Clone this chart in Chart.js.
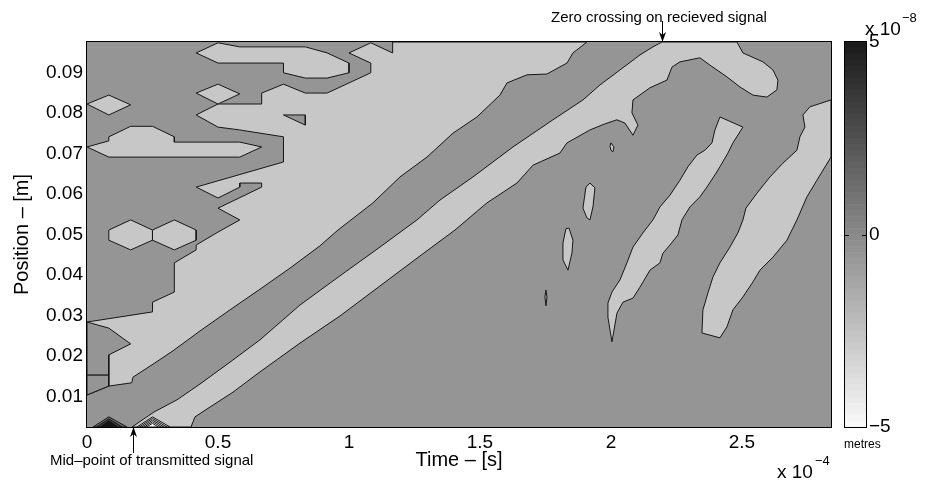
<!DOCTYPE html>
<html>
<head>
<meta charset="utf-8">
<script src="https://cdn.jsdelivr.net/npm/chart.js"></script>
<style>
  body { margin: 0; background: #fff; }
  #wrap { position: relative; width: 930px; height: 484px; font-family: 'Liberation Sans', Arial, sans-serif; color: #000; }
  #plot { position: absolute; left: 0; top: 0; }
  #cbar { position: absolute; left: 835px; top: 0; }
  .lbl { position: absolute; white-space: nowrap; line-height: 1; }
</style>
</head>
<body>
<div id="wrap">
  <canvas id="plot" width="930" height="484"></canvas>
  <canvas id="cbar" width="95" height="484"></canvas>
  <div class="lbl" style="left:551px;top:9px;font-size:15px">Zero crossing on recieved signal</div>
  <div class="lbl" style="left:50px;top:452px;font-size:15px">Mid–point of transmitted signal</div>
  <div class="lbl" style="left:777px;top:462px;font-size:19px">x 10</div>
  <div class="lbl" style="left:815px;top:454px;font-size:13px">−4</div>
  <div class="lbl" style="left:865px;top:19px;font-size:19px">x 10</div>
  <div class="lbl" style="left:902px;top:11px;font-size:13px">−8</div>
  <div class="lbl" style="left:844px;top:438px;font-size:12px">metres</div>
</div>
<script>
// time in units of 1e-4 s, position in metres
const xTicks = [0, 0.5, 1, 1.5, 2, 2.5];
const xTickLabels = ['0', '0.5', '1', '1.5', '2', '2.5'];
const yTicks = [0.01, 0.02, 0.03, 0.04, 0.05, 0.06, 0.07, 0.08, 0.09];
const cbTicks = [-5, 0, 5];

const midPoint = 0.1756;   // transmitted signal mid-point
const zeroCross = 2.1947;  // zero crossing on received signal

// contour regions, [time, position]
const upperBand = [[1.1667,0.0975],[1.9084,0.0975],[1.8550,0.0948],[1.8321,0.0923],[1.7557,0.0896],[1.6794,0.0894],[1.6031,0.0874],[1.5763,0.0844],[1.4885,0.0790],[1.3969,0.0750],[1.2977,0.0691],[1.1947,0.0642],[1.0916,0.0578],[0.9580,0.0511],[0.8893,0.0472],[0.7748,0.0417],[0.6603,0.0365],[0.5458,0.0314],[0.4313,0.0262],[0.3282,0.0213],[0.2519,0.0180],[0.1756,0.0148],[0.1706,0.0134],[0.0833,0.0126],[0,0.0104],[0,0.0284],[0.25,0.0309],[0.25,0.0333],[0.3333,0.0358],[0.3333,0.0430],[0.4167,0.0462],[0.4167,0.0474],[0.5,0.0506],[0.5833,0.0536],[0.5,0.0565],[0.6667,0.0617],[0.6667,0.0627],[0.5833,0.0627],[0.5833,0.0617],[0.5,0.0590],[0.4167,0.0617],[0.75,0.0679],[0.75,0.0741],[0.5833,0.0758],[0.5,0.0765],[0.4167,0.0795],[0.5,0.0822],[0.6667,0.0822],[0.6667,0.0849],[0.75,0.0871],[0.8333,0.0849],[0.9167,0.0849],[1.0833,0.0899],[1.0833,0.0923],[1.0,0.0948],[1.0833,0.0973],[1.1667,0.0948]];
const leftNotch = [[0,0.0284],[0.0833,0.0269],[0.1667,0.0230],[0.0833,0.0203],[0.0833,0.0153],[0,0.0153]];
const leftBox = [[0,0.0153],[0.0833,0.0153],[0.0833,0.0126],[0,0.0104]];
const upperPocket = [[0.75,0.0795],[0.8333,0.0795],[0.8333,0.0770]];
const topBlob = [[0.4167,0.0948],[0.5,0.0973],[0.5833,0.0963],[0.8333,0.0963],[0.9167,0.0948],[1.0,0.0923],[1.0,0.0899],[0.9167,0.0886],[0.8333,0.0886],[0.75,0.0899],[0.75,0.0923],[0.5,0.0923]];
const leftDiamond = [[0,0.0822],[0.0833,0.0844],[0.1667,0.0820],[0.0833,0.0795]];
const midDiamond = [[0.4167,0.0849],[0.5,0.0871],[0.5833,0.0847],[0.5,0.0822]];
const midBlob = [[0,0.0716],[0.0833,0.0731],[0.0833,0.0741],[0.1667,0.0767],[0.25,0.0767],[0.3333,0.0741],[0.3333,0.0728],[0.5833,0.0728],[0.6667,0.0716],[0.5833,0.0691],[0.0833,0.0691]];
const leftHex = [[0.0833,0.0511],[0.1667,0.0536],[0.25,0.0511],[0.25,0.0486],[0.1667,0.0462],[0.0833,0.0486]];
const rightHex = [[0.25,0.0511],[0.3333,0.0536],[0.4167,0.0511],[0.4167,0.0486],[0.3333,0.0462],[0.25,0.0486]];
const lowerBand = [[0.1718,0.0025],[0.2557,0.0062],[0.3435,0.0092],[0.4313,0.0131],[0.5458,0.0185],[0.6603,0.0240],[0.8130,0.0326],[0.9656,0.0398],[1.1183,0.0469],[1.2595,0.0536],[1.3473,0.0585],[1.4733,0.0642],[1.6260,0.0716],[1.7786,0.0783],[1.8931,0.0832],[1.9580,0.0869],[2.0344,0.0906],[2.1107,0.0943],[2.1603,0.0963],[2.1947,0.0975],[2.4809,0.0975],[2.5038,0.0948],[2.5802,0.0926],[2.6183,0.0906],[2.6374,0.0881],[2.6336,0.0857],[2.5954,0.0839],[2.5420,0.0844],[2.4924,0.0864],[2.4427,0.0889],[2.3779,0.0918],[2.3397,0.0936],[2.2634,0.0926],[2.2328,0.0913],[2.2137,0.0881],[2.1489,0.0862],[2.0840,0.0832],[2.0802,0.0800],[2.1031,0.0770],[2.0840,0.0745],[2.0534,0.0775],[2.0229,0.0783],[1.9771,0.0773],[1.9198,0.0758],[1.8321,0.0726],[1.8053,0.0701],[1.7023,0.0671],[1.6412,0.0627],[1.5267,0.0578],[1.4046,0.0511],[1.2710,0.0447],[1.1183,0.0373],[0.9656,0.0299],[0.8130,0.0232],[0.6603,0.0161],[0.5573,0.0111],[0.4809,0.0079],[0.4122,0.0050],[0.3969,0.0025]];
const midStripe = [[2.4160,0.0790],[2.5038,0.0765],[2.4656,0.0726],[2.4466,0.0701],[2.4160,0.0667],[2.3969,0.0647],[2.3664,0.0617],[2.3397,0.0593],[2.3015,0.0568],[2.2710,0.0536],[2.2557,0.0499],[2.2252,0.0474],[2.1985,0.0454],[2.1870,0.0430],[2.1489,0.0412],[2.1107,0.0370],[2.0840,0.0343],[2.0458,0.0333],[2.0229,0.0306],[2.0038,0.0235],[1.9885,0.0296],[1.9885,0.0331],[2.0038,0.0358],[2.0344,0.0388],[2.0611,0.0430],[2.0840,0.0469],[2.1221,0.0504],[2.1603,0.0536],[2.1870,0.0568],[2.2252,0.0597],[2.2634,0.0634],[2.2939,0.0667],[2.3282,0.0696],[2.3588,0.0708],[2.3855,0.0726],[2.3969,0.0758]];
const rightStripe = [[2.84,0.0832],[2.7595,0.0815],[2.7328,0.0795],[2.7405,0.0765],[2.7214,0.0741],[2.7099,0.0708],[2.6565,0.0676],[2.6069,0.0642],[2.5573,0.0602],[2.5153,0.0565],[2.5038,0.0536],[2.4847,0.0504],[2.4542,0.0469],[2.4160,0.0430],[2.3893,0.0395],[2.3702,0.0356],[2.3511,0.0314],[2.3473,0.0257],[2.4160,0.0245],[2.4427,0.0272],[2.4656,0.0314],[2.5038,0.0346],[2.5420,0.0383],[2.5687,0.0412],[2.6183,0.0444],[2.6718,0.0486],[2.7099,0.0536],[2.7481,0.0593],[2.7863,0.0634],[2.84,0.0691]];
const dropIsle = [[2.0,0.0726],[2.0115,0.0716],[2.0076,0.0704],[2.0,0.0708],[1.9962,0.0718]];
const isleA = [[1.9198,0.0627],[1.9389,0.0615],[1.9313,0.0568],[1.9198,0.0536],[1.9084,0.0541],[1.8931,0.0565],[1.9046,0.0617]];
const isleB = [[1.8397,0.0516],[1.8550,0.0486],[1.8511,0.0454],[1.8359,0.0412],[1.8168,0.0437],[1.8168,0.0479],[1.8282,0.0514]];
const sliverIsle = [[1.7519,0.0363],[1.7557,0.0346],[1.7519,0.0324],[1.7481,0.0346]];
// nested contours of the positive peak and the negative trough at the bottom edge
const posPeak = [
  [[0.023,0.0025],[0.0833,0.0050],[0.153,0.0025]],
  [[0.036,0.0025],[0.0833,0.0045],[0.135,0.0025]],
  [[0.050,0.0025],[0.0833,0.0040],[0.118,0.0025]]
];
const negPeak = [
  [[0.191,0.0025],[0.25,0.0050],[0.317,0.0025]],
  [[0.200,0.0025],[0.25,0.0046],[0.305,0.0025]],
  [[0.209,0.0025],[0.25,0.0042],[0.294,0.0025]],
  [[0.218,0.0025],[0.25,0.0038],[0.283,0.0025]],
  [[0.227,0.0025],[0.25,0.0034],[0.272,0.0025]]
];

const DARK = '#959595';
const LIGHT = '#c6c7c6';
const EDGE = '#161616';
const FONT = "'Liberation Sans', Arial, sans-serif";

// bottom layer first
const layers = [
  [upperBand, LIGHT],
  [leftNotch, DARK], [leftBox, DARK], [upperPocket, DARK],
  [topBlob, LIGHT], [leftDiamond, LIGHT], [midDiamond, LIGHT], [midBlob, LIGHT],
  [leftHex, LIGHT], [rightHex, LIGHT],
  [lowerBand, LIGHT], [midStripe, LIGHT], [rightStripe, LIGHT],
  [dropIsle, LIGHT], [isleA, LIGHT], [isleB, LIGHT], [sliverIsle, LIGHT],
  [posPeak[0], '#6e6e6e'], [posPeak[1], '#3c3c3c'], [posPeak[2], '#141414'],
  [negPeak[0], '#d4d4d4'], [negPeak[1], '#e0e0e0'], [negPeak[2], '#ebebeb'],
  [negPeak[3], '#f4f4f4'], [negPeak[4], '#fcfcfc']
];

const datasets = layers.map(([pts, color], i) => ({
  data: pts.concat([pts[0]]).map(([x, y]) => ({x, y})),
  showLine: true,
  fill: 'shape',
  backgroundColor: color,
  borderColor: EDGE,
  borderWidth: 1,
  borderJoinStyle: 'round',
  pointRadius: 0,
  tension: 0,
  order: layers.length - i
}));

const plotBg = {
  id: 'plotBg',
  beforeDatasetsDraw(chart, args, opts) {
    const {ctx, chartArea: a} = chart;
    ctx.save();
    ctx.fillStyle = opts.color;
    ctx.fillRect(a.left, a.top, a.width, a.height);
    ctx.restore();
  }
};

const frame = {
  id: 'frame',
  afterDatasetsDraw(chart, args, opts) {
    const {ctx, chartArea: a} = chart;
    ctx.save();
    ctx.strokeStyle = '#000';
    ctx.lineWidth = 1;
    ctx.strokeRect(a.left - 0.5, a.top - 0.5, a.width + 1, a.height + 1);
    // inward tick marks (colour bar only)
    (opts.marks || []).forEach(v => {
      const py = Math.round(chart.scales.y.getPixelForValue(v)) + 0.5;
      ctx.beginPath();
      ctx.moveTo(a.left, py); ctx.lineTo(a.left + 4, py);
      ctx.moveTo(a.right, py); ctx.lineTo(a.right - 4, py);
      ctx.stroke();
    });
    ctx.restore();
  }
};

// arrows pointing at the two marked instants
const arrows = {
  id: 'arrows',
  afterDraw(chart) {
    const {ctx, scales: {x, y}} = chart;
    ctx.save();
    ctx.strokeStyle = '#000';
    ctx.fillStyle = '#000';
    ctx.lineWidth = 1;
    const head = (px, tipY, dir) => {
      ctx.beginPath();
      ctx.moveTo(px, tipY);
      ctx.lineTo(px - 3.5, tipY - dir * 10);
      ctx.lineTo(px, tipY - dir * 7);
      ctx.lineTo(px + 3.5, tipY - dir * 10);
      ctx.closePath();
      ctx.fill();
    };
    let px = Math.round(x.getPixelForValue(zeroCross)) + 0.5;
    let py = y.getPixelForValue(y.max);
    ctx.beginPath(); ctx.moveTo(px, py - 21); ctx.lineTo(px, py - 4); ctx.stroke();
    head(px, py, 1);
    px = Math.round(x.getPixelForValue(midPoint)) + 0.5;
    py = y.getPixelForValue(y.min);
    ctx.beginPath(); ctx.moveTo(px, py + 26); ctx.lineTo(px, py + 4); ctx.stroke();
    head(px, py, -1);
    ctx.restore();
  }
};

new Chart(document.getElementById('plot'), {
  type: 'scatter',
  data: { datasets },
  options: {
    responsive: false,
    animation: false,
    layout: { padding: { top: 42, right: 99, bottom: 0, left: 0 } },
    plugins: {
      legend: { display: false },
      tooltip: { enabled: false },
      plotBg: { color: DARK }
    },
    scales: {
      x: {
        type: 'linear',
        min: 0,
        max: 2.84,
        afterFit: s => { s.height = 57; },
        afterBuildTicks: s => { s.ticks = xTicks.map(v => ({value: v})); },
        grid: { display: false, drawTicks: false },
        border: { display: false },
        ticks: {
          padding: 4,
          color: '#000',
          font: { family: FONT, size: 19 },
          maxRotation: 0,
          callback: v => xTickLabels[xTicks.indexOf(v)]
        },
        title: {
          display: true,
          text: 'Time – [s]',
          color: '#000',
          font: { family: FONT, size: 20 },
          padding: { top: 0, bottom: 12 }
        }
      },
      y: {
        type: 'linear',
        min: 0.0025,
        max: 0.0975,
        afterFit: s => { s.width = 87; },
        afterBuildTicks: s => { s.ticks = yTicks.map(v => ({value: v})); },
        grid: { display: false, drawTicks: false },
        border: { display: false },
        ticks: {
          padding: 4,
          color: '#000',
          font: { family: FONT, size: 19 },
          callback: v => v.toFixed(2)
        },
        title: {
          display: true,
          text: 'Position – [m]',
          color: '#000',
          font: { family: FONT, size: 20 },
          padding: { top: 10, bottom: 0 }
        }
      }
    }
  },
  plugins: [plotBg, frame, arrows]
});

// colour bar: 64 grey levels from -5 (white) to +5 (near black)
const cbSteps = 64;
const cbMin = -5, cbMax = 5;
const cbSets = [];
for (let i = 0; i < cbSteps; i++) {
  const lo = cbMin + (cbMax - cbMin) * i / cbSteps;
  const hi = cbMin + (cbMax - cbMin) * (i + 1) / cbSteps;
  const g = Math.round(250 - 225 * (i + 0.5) / cbSteps);
  cbSets.push({
    data: [[lo, hi]],
    backgroundColor: `rgb(${g},${g},${g})`,
    borderWidth: 0,
    grouped: false,
    barPercentage: 1,
    categoryPercentage: 1
  });
}

new Chart(document.getElementById('cbar'), {
  type: 'bar',
  data: { labels: ['metres'], datasets: cbSets },
  options: {
    responsive: false,
    animation: false,
    layout: { padding: { top: 42, right: 0, bottom: 57, left: 10 } },
    plugins: {
      legend: { display: false },
      tooltip: { enabled: false },
      frame: { marks: [0] }
    },
    scales: {
      x: { display: false },
      y: {
        position: 'right',
        min: cbMin,
        max: cbMax,
        afterFit: s => { s.width = 64; },
        afterBuildTicks: s => { s.ticks = cbTicks.map(v => ({value: v})); },
        grid: { display: false, drawTicks: false },
        border: { display: false },
        ticks: {
          padding: 3,
          color: '#000',
          font: { family: FONT, size: 19 },
          callback: v => v < 0 ? '−' + Math.abs(v) : String(v)
        }
      }
    }
  },
  plugins: [frame]
});
</script>
</body>
</html>
